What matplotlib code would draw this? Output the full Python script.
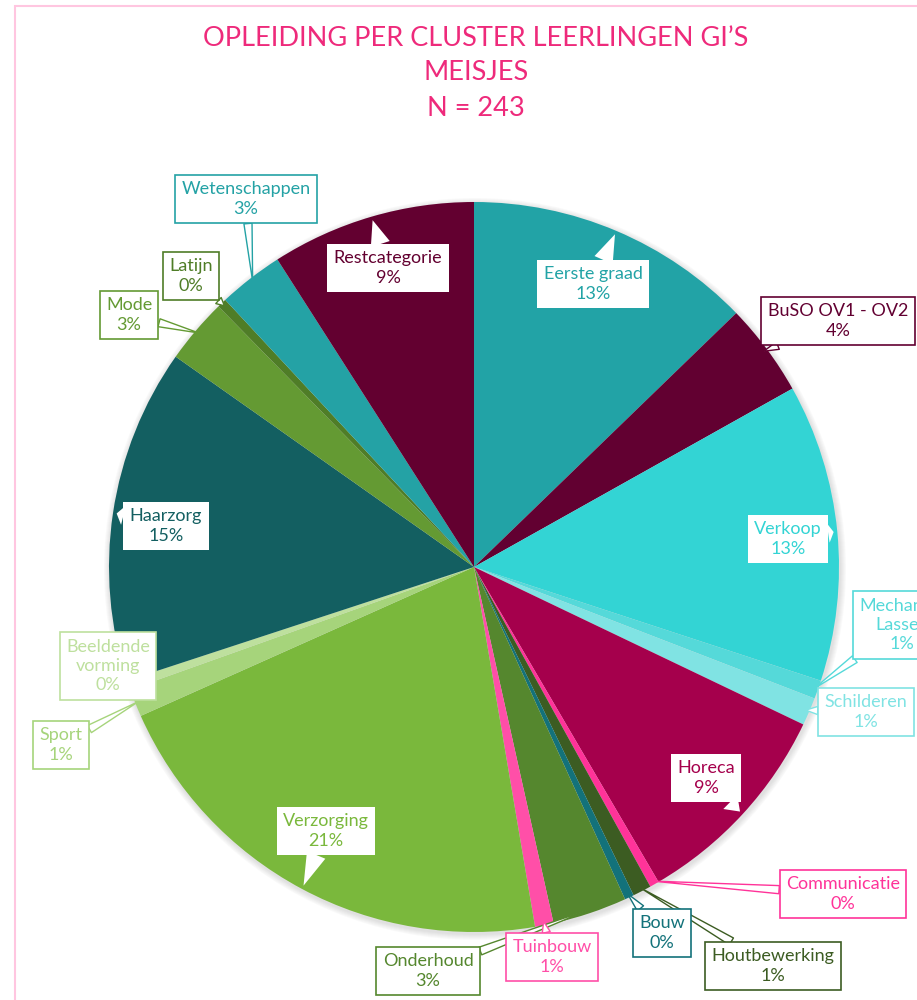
import matplotlib.pyplot as plt
from matplotlib.patches import Rectangle, Circle
import numpy as np

plt.rcParams['font.family'] = ['Lato', 'DejaVu Sans']

# data (clockwise from the top), N = 243
clusters = ['Eerste graad', 'BuSO OV1 - OV2', 'Verkoop', 'Mechanica\nLassen', 'Schilderen',
            'Horeca', 'Communicatie', 'Houtbewerking', 'Bouw', 'Onderhoud', 'Tuinbouw',
            'Verzorging', 'Sport', 'Beeldende\nvorming', 'Haarzorg', 'Mode', 'Latijn',
            'Wetenschappen', 'Restcategorie']
counts = [31, 10, 32, 2, 3, 23, 1, 2, 1, 8, 2, 51, 3, 1, 36, 7, 1, 7, 22]
colors = ['#22A3A6', '#620031', '#33D4D4', '#55D9D9', '#80E3E3', '#A5004C', '#FF3399',
          '#3C5C22', '#13727A', '#55872E', '#FF4FA8', '#7AB83C', '#A6D47B', '#BEE09E',
          '#135F61', '#649A33', '#4F7D27', '#24A2A5', '#630030']
inside = ['Eerste graad', 'Verkoop', 'Horeca', 'Verzorging', 'Haarzorg', 'Restcategorie']
N = sum(counts)

# label box centres in picture pixels (x, y from top)
label_pos = [(593, 284), (838, 321), (788, 539), (902, 625), (866, 712),
             (706, 778), (843, 894), (773, 966), (662, 933), (428, 971),
             (552, 957), (326, 831), (61, 745), (108, 666), (166, 526),
             (129, 315), (191, 276), (246, 199), (388, 268)]

W, H = 917, 1000
fig = plt.figure(figsize=(9.17, 10), dpi=100)
ax = fig.add_axes([0, 0, 1, 1])

cx, cy, R = 474, H - 567, 365

# soft shadow around the pie
for k in range(6):
    ax.add_patch(Circle((cx + 1, cy - 2), R + 1 + k, color='#888888', alpha=0.045, lw=0, zorder=0))

wedges, _ = ax.pie(counts, colors=colors, startangle=90, counterclock=False,
                   radius=R, center=(cx, cy), wedgeprops=dict(linewidth=0))
for w in wedges:
    w.set_zorder(1)

ax.set_xlim(0, W)
ax.set_ylim(0, H)
ax.set_aspect('equal')
ax.axis('off')

for w, name, c, col, (bx, by) in zip(wedges, clusters, counts, colors, label_pos):
    mid = np.deg2rad((w.theta1 + w.theta2) / 2)
    tip = (cx + R * 0.99 * np.cos(mid), cy + R * 0.99 * np.sin(mid))
    pct = f"{100 * c / N:.0f}%"
    if name in inside:
        bbox = dict(boxstyle='square,pad=0.35', fc='white', ec='none')
        arrow = dict(arrowstyle='wedge,tail_width=1.1', fc='white', ec='none',
                     shrinkA=0, shrinkB=0)
    else:
        bbox = dict(boxstyle='square,pad=0.35', fc='white', ec=col, lw=1.2)
        arrow = dict(arrowstyle='wedge,tail_width=0.45', fc='white', ec=col, lw=1,
                     shrinkA=0, shrinkB=0)
    ax.annotate(f"{name}\n{pct}", xy=tip, xytext=(bx, H - by), ha='center', va='center',
                color=col, fontsize=13, linespacing=1.25, bbox=bbox, arrowprops=arrow,
                annotation_clip=False, zorder=5)

# title
title_col = '#EE2A7B'
ax.text(476, H - 38, 'OPLEIDING PER CLUSTER LEERLINGEN GI’S', ha='center', va='center',
        fontsize=19.5, color=title_col)
ax.text(476, H - 73, 'MEISJES', ha='center', va='center', fontsize=19.5, color=title_col)
ax.text(476, H - 108, 'N = 243', ha='center', va='center', fontsize=19.5, color=title_col)

# chart border (cropped on the right and bottom)
ax.add_patch(Rectangle((15, -50), 1000, H - 5.5 + 50, fill=False, ec='#FFC6E0', lw=1.5,
                       clip_on=False, zorder=0))

fig.savefig('out.png', dpi=100)
